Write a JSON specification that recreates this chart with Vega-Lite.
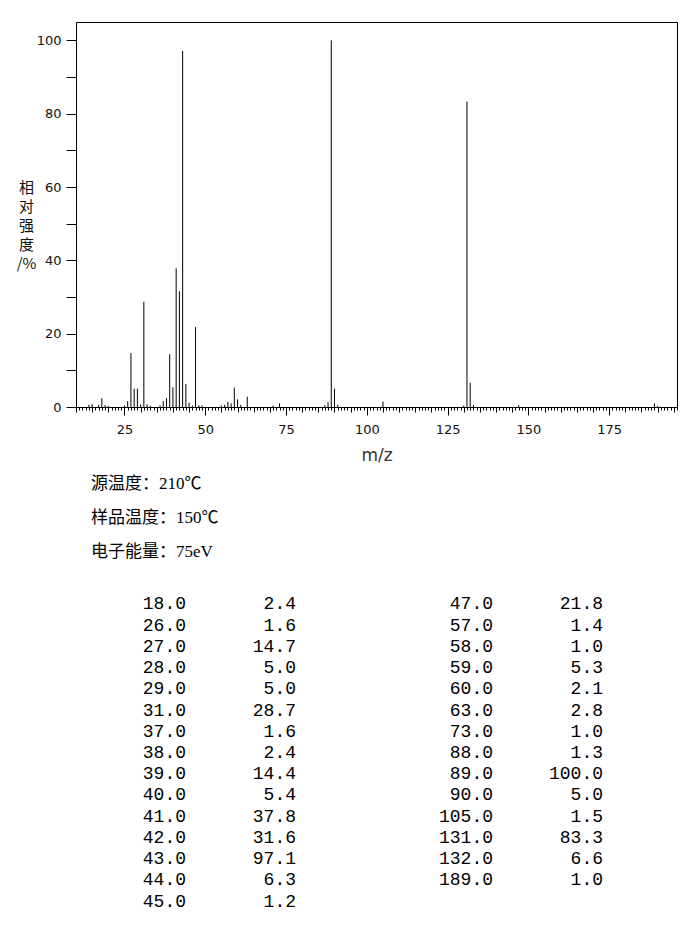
{
  "$schema": "https://vega.github.io/schema/vega-lite/v6.json",
  "background": "white",
  "padding": {"left": 15, "top": 21, "right": 5, "bottom": 5},
  "spacing": 10,
  "bounds": "flush",
  "config": {
    "view": {"stroke": null},
    "axis": {
      "grid": false,
      "domainColor": "black",
      "tickColor": "black",
      "labelColor": "#111",
      "labelFont": "DejaVu Sans",
      "labelFontSize": 13,
      "titleColor": "#111",
      "titleFontWeight": "normal"
    }
  },
  "datasets": {
    "peaks": [
      {"mz": 14, "intensity": 0.6},
      {"mz": 15, "intensity": 0.8},
      {"mz": 17, "intensity": 0.6},
      {"mz": 18, "intensity": 2.4},
      {"mz": 19, "intensity": 0.5},
      {"mz": 20, "intensity": 0.3},
      {"mz": 25, "intensity": 0.4},
      {"mz": 26, "intensity": 1.6},
      {"mz": 27, "intensity": 14.7},
      {"mz": 28, "intensity": 5.0},
      {"mz": 29, "intensity": 5.0},
      {"mz": 30, "intensity": 0.7},
      {"mz": 31, "intensity": 28.7},
      {"mz": 32, "intensity": 0.7},
      {"mz": 33, "intensity": 0.3},
      {"mz": 36, "intensity": 0.4},
      {"mz": 37, "intensity": 1.6},
      {"mz": 38, "intensity": 2.4},
      {"mz": 39, "intensity": 14.4},
      {"mz": 40, "intensity": 5.4},
      {"mz": 41, "intensity": 37.8},
      {"mz": 42, "intensity": 31.6},
      {"mz": 43, "intensity": 97.1},
      {"mz": 44, "intensity": 6.3},
      {"mz": 45, "intensity": 1.2},
      {"mz": 46, "intensity": 0.4},
      {"mz": 47, "intensity": 21.8},
      {"mz": 48, "intensity": 0.5},
      {"mz": 49, "intensity": 0.4},
      {"mz": 55, "intensity": 0.4},
      {"mz": 56, "intensity": 0.6},
      {"mz": 57, "intensity": 1.4},
      {"mz": 58, "intensity": 1.0},
      {"mz": 59, "intensity": 5.3},
      {"mz": 60, "intensity": 2.1},
      {"mz": 61, "intensity": 0.6},
      {"mz": 63, "intensity": 2.8},
      {"mz": 71, "intensity": 0.4},
      {"mz": 73, "intensity": 1.0},
      {"mz": 87, "intensity": 0.5},
      {"mz": 88, "intensity": 1.3},
      {"mz": 89, "intensity": 100.0},
      {"mz": 90, "intensity": 5.0},
      {"mz": 91, "intensity": 0.6},
      {"mz": 105, "intensity": 1.5},
      {"mz": 130, "intensity": 0.4},
      {"mz": 131, "intensity": 83.3},
      {"mz": 132, "intensity": 6.6},
      {"mz": 133, "intensity": 0.5},
      {"mz": 147, "intensity": 0.5},
      {"mz": 189, "intensity": 1.0},
      {"mz": 190, "intensity": 0.3}
    ],
    "info": [
      {"label": "源温度：210℃"},
      {"label": "样品温度：150℃"},
      {"label": "电子能量：75eV"}
    ]
  },
  "vconcat": [
    {
      "width": 601,
      "height": 385,
      "view": {"stroke": "black", "strokeWidth": 1},
      "data": {"name": "peaks"},
      "mark": {"type": "rule", "color": "black", "strokeWidth": 1},
      "encoding": {
        "x": {
          "field": "mz",
          "type": "quantitative",
          "scale": {"domain": [10, 196], "nice": false, "zero": false},
          "axis": {
            "title": "m/z",
            "tickCount": 186,
            "labelExpr": "datum.value % 25 == 0 ? datum.label : ''",
            "labelOverlap": false,
            "labelFlush": false,
            "tickSize": {
              "condition": [
                {"test": "datum.value % 25 == 0", "value": 8},
                {"test": "datum.value % 5 == 0", "value": 5}
              ],
              "value": 3
            },
            "labelPadding": 8,
            "titlePadding": 11,
            "titleFont": "DejaVu Sans",
            "titleFontSize": 17,
            "titleColor": "#333"
          }
        },
        "y": {
          "field": "intensity",
          "type": "quantitative",
          "scale": {"domain": [0, 105], "nice": false},
          "axis": {
            "values": [0, 10, 20, 30, 40, 50, 60, 70, 80, 90, 100],
            "labelExpr": "datum.value % 20 == 0 ? datum.label : ''",
            "tickSize": 10,
            "labelPadding": 5,
            "title": ["相", "对", "强", "度", "/%"],
            "titleAngle": 0,
            "titleBaseline": "middle",
            "titleAlign": "center",
            "titleX": -50,
            "titleY": 165,
            "titleFont": "Noto Sans CJK SC",
            "titleFontSize": 15,
            "titleLineHeight": 19
          }
        },
        "y2": {"datum": 0}
      }
    },
    {
      "width": 30,
      "height": 134.5,
      "data": {"name": "info"},
      "mark": {
        "type": "text",
        "align": "left",
        "baseline": "middle",
        "font": "'Liberation Serif', 'Noto Sans CJK SC'",
        "fontSize": 17,
        "color": "black"
      },
      "encoding": {
        "y": {
          "field": "label",
          "type": "nominal",
          "sort": null,
          "scale": {"type": "point", "padding": 1.103, "align": 1},
          "axis": null
        },
        "text": {"field": "label"}
      }
    },
    {
      "width": 527,
      "height": 339.5,
      "data": {"name": "peaks"},
      "transform": [
        {"filter": "datum.intensity >= 1"},
        {"window": [{"op": "row_number", "as": "rn"}], "sort": [{"field": "mz", "order": "ascending"}]},
        {"calculate": "datum.rn > 15 ? 1 : 0", "as": "col"},
        {"calculate": "datum.rn > 15 ? datum.rn - 16 : datum.rn - 1", "as": "row"}
      ],
      "encoding": {
        "x": {
          "field": "col",
          "type": "ordinal",
          "scale": {"type": "point", "padding": 0.3583},
          "axis": null
        },
        "y": {
          "field": "row",
          "type": "ordinal",
          "scale": {"type": "point", "padding": 1.083, "align": 1},
          "axis": null
        }
      },
      "layer": [
        {
          "mark": {"type": "text", "align": "right", "baseline": "middle", "font": "Liberation Mono", "fontSize": 18, "color": "black"},
          "encoding": {"text": {"field": "mz", "type": "quantitative", "format": ".1f"}}
        },
        {
          "mark": {"type": "text", "align": "right", "baseline": "middle", "dx": 110, "font": "Liberation Mono", "fontSize": 18, "color": "black"},
          "encoding": {"text": {"field": "intensity", "type": "quantitative", "format": ".1f"}}
        }
      ]
    }
  ]
}
